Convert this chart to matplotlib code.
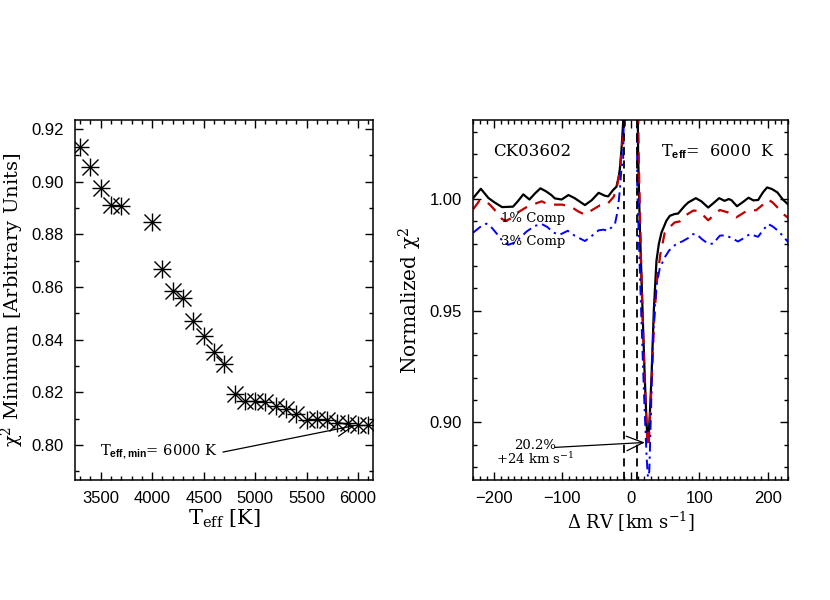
import matplotlib
matplotlib.use("Agg")
import matplotlib.pyplot as plt
from matplotlib.ticker import MultipleLocator, FormatStrFormatter

# ---------------- data: left panel ----------------
teff = [3300, 3400, 3500, 3600, 3700, 4000, 4100, 4200, 4300, 4400, 4500, 4600,
        4700, 4800, 4900, 5000, 5100, 5200, 5300, 5400, 5500, 5600, 5700, 5800,
        5900, 6000, 6100]
chi2_min = [0.9130, 0.9056, 0.8974, 0.8913, 0.8908, 0.8847, 0.8667, 0.8584,
            0.8559, 0.8471, 0.8414, 0.8353, 0.8306, 0.8192, 0.8167, 0.8167,
            0.8163, 0.8147, 0.8138, 0.8119, 0.8096, 0.8100, 0.8095, 0.8085,
            0.8082, 0.8076, 0.8077]
teff_best = 6000

# ---------------- data: right panel ----------------
rv_black = [-230, -219, -208, -199, -188, -172, -165, -157, -148, -140, -132, -124,
            -116, -111, -101, -91, -82, -67, -57, -47, -38, -33, -26, -21, -18, -16,
            -13.6, -11.2, -9, 9.5, 10.7, 13, 15.6, 18, 20.4, 23, 24.5, 26, 28, 30.2,
            33.6, 37.5, 41, 44.8, 52, 57, 64, 69, 78.8, 84, 95, 103, 113, 120, 129,
            137, 143, 147, 155, 163, 172, 179, 186, 193, 199, 206, 214, 222, 230]
chi_black = [1.0005, 1.0046, 1.0005, 0.9985, 0.9964, 0.9966, 0.9990, 1.0021, 0.9998,
             1.0025, 1.0048, 1.0035, 1.0018, 1.0003, 0.9998, 1.0018, 1.0004, 0.9973,
             0.9995, 1.0028, 1.0015, 1.0012, 1.0040, 1.0055, 1.0095, 1.0134, 1.0222,
             1.0343, 1.0600, 1.0600, 1.0200, 0.9900, 0.9650, 0.9420, 0.9200, 0.9000,
             0.8915, 0.8935, 0.9050, 0.9200, 0.9500, 0.9724, 0.9800, 0.9850, 0.9903,
             0.9925, 0.9933, 0.9935, 0.9970, 0.9985, 1.0004, 0.9990, 0.9962, 0.9980,
             1.0004, 0.9992, 1.0000, 0.9995, 0.9968, 0.9985, 1.0006, 0.9994, 0.9996,
             1.0030, 1.0052, 1.0045, 1.0030, 0.9998, 0.9975]

rv_red = [-230, -221, -213, -205, -197, -188, -182, -174, -165, -150, -130, -120,
          -110, -100, -87, -77, -67, -57, -45, -35, -25, -21, -16, -13.6, -11, -8.8,
          -7, 9.5, 11.7, 15.5, 20, 24.5, 26, 30, 34, 38, 43, 49.6, 57, 64, 71.5, 79,
          91, 98, 105, 113, 122, 130, 142, 154, 163, 171, 183, 193, 200.5, 207, 215,
          222, 230]
chi_red = [0.9955, 0.9993, 0.9995, 0.9972, 0.9945, 0.9910, 0.9903, 0.9915, 0.9940,
           0.9968, 0.9990, 0.9975, 0.9975, 0.9975, 0.9965, 0.9945, 0.9930, 0.9950,
           0.9972, 0.9975, 1.0010, 1.0045, 1.0120, 1.0209, 1.0300, 1.0313, 1.0600,
           1.0600, 1.0170, 0.9650, 0.9200, 0.8890, 0.8890, 0.9150, 0.9450, 0.9630,
           0.9750, 0.9850, 0.9875, 0.9895, 0.9900, 0.9925, 0.9948, 0.9948, 0.9930,
           0.9905, 0.9930, 0.9951, 0.9940, 0.9918, 0.9935, 0.9950, 0.9950, 0.9975,
           0.9998, 0.9985, 0.9960, 0.9935, 0.9915]

rv_blue = [-230, -220, -211, -204, -196, -188, -179, -170, -164, -152, -140, -130,
           -122, -113, -104, -92, -82, -67, -57, -47, -40, -33, -23, -19, -16, -13.6,
           -11.2, -9, 9, 9.3, 14, 19, 23, 25, 27, 29.5, 32, 35, 38, 42.3, 49.6, 56,
           66.7, 75, 83.6, 91, 96, 104, 113, 120, 130, 138, 144, 156.6, 165, 173.7,
           185.8, 193, 200.5, 207, 215, 222, 230]
chi_blue = [0.9850, 0.9875, 0.9890, 0.9875, 0.9846, 0.9815, 0.9795, 0.9805, 0.9820,
            0.9855, 0.9880, 0.9888, 0.9875, 0.9850, 0.9840, 0.9858, 0.9836, 0.9812,
            0.9835, 0.9860, 0.9863, 0.9858, 0.9890, 0.9950, 1.0040, 1.0140, 1.0171,
            1.0600, 1.0600, 1.0067, 0.9600, 0.9150, 0.8850, 0.8754, 0.8780, 0.9050,
            0.9350, 0.9520, 0.9620, 0.9690, 0.9739, 0.9770, 0.9800, 0.9810, 0.9825,
            0.9843, 0.9843, 0.9820, 0.9800, 0.9800, 0.9836, 0.9838, 0.9830, 0.9810,
            0.9825, 0.9843, 0.9831, 0.9860, 0.9888, 0.9878, 0.9858, 0.9835, 0.9806]

rv_window = [-10, 9]
rv_peak = 24
depth_pct = 20.2
star_name = "CK03602"

# ---------------- styling ----------------
plt.rcParams['mathtext.fontset'] = 'custom'
plt.rcParams['mathtext.rm'] = 'DejaVu Serif'
plt.rcParams['mathtext.it'] = 'DejaVu Serif:italic'
plt.rcParams['mathtext.bf'] = 'Liberation Sans:bold'
plt.rcParams['font.family'] = ['Liberation Sans', 'DejaVu Sans']

SERIF = ['DejaVu Serif']

fig = plt.figure(figsize=(8.3, 6.0), dpi=100)
ax1 = fig.add_axes([75 / 830, 0.2, (373 - 75) / 830, 0.6])
ax2 = fig.add_axes([473.3 / 830, 0.2, (788.3 - 473.3) / 830, 0.6])

for ax in (ax1, ax2):
    for s in ax.spines.values():
        s.set_linewidth(1.1)
    ax.tick_params(which='both', direction='in', top=True, right=True,
                   labelsize=12, width=1.0, pad=8)
    ax.tick_params(which='major', length=5.5)
    ax.tick_params(which='minor', length=3)

# ---------------- left panel ----------------
ax1.plot(teff, chi2_min, ls='none', marker='+', ms=12.5, mew=1.0, color='black')
ax1.plot(teff, chi2_min, ls='none', marker='x', ms=11.5, mew=1.0, color='black')
ax1.set_xlim(3250, 6145)
ax1.set_ylim(0.7867, 0.9234)
ax1.xaxis.set_major_locator(MultipleLocator(500))
ax1.xaxis.set_minor_locator(MultipleLocator(100))
ax1.yaxis.set_major_locator(MultipleLocator(0.02))
ax1.yaxis.set_minor_locator(MultipleLocator(0.01))
ax1.yaxis.set_major_formatter(FormatStrFormatter('%.2f'))
ax1.set_xlabel('T$_{\\mathrm{eff}}$ [K]', fontsize=15, family=SERIF, labelpad=1)
ax1.set_ylabel('χ$^{2}$ Minimum [Arbitrary Units]', fontsize=14, family=SERIF,
               labelpad=4)

best_val = chi2_min[teff.index(teff_best)]
ax1.text(3494, 0.7973, 'T$_{\\mathbf{eff,min}}$= %d K' % teff_best, fontsize=10.5,
         family=SERIF, ha='left', va='center')
ax1.annotate('', xy=(teff_best - 30, best_val - 0.0002), xytext=(4687, 0.7973),
             arrowprops=dict(arrowstyle='->,head_length=0.8,head_width=0.35',
                             mutation_scale=15, lw=0.9, color='black',
                             shrinkA=0, shrinkB=0))

# ---------------- right panel ----------------
ax2.plot(rv_black, chi_black, color='black', lw=1.6)
ax2.plot(rv_red, chi_red, color='#c00000', lw=1.6, dashes=(5, 4))
ax2.plot(rv_blue, chi_blue, color='#0000ff', lw=1.4, dashes=(5, 2.5, 1.2, 2.5))
for v in rv_window:
    ax2.axvline(v, color='black', lw=1.3, dashes=(4.5, 3))
ax2.set_xlim(-230, 230)
ax2.set_ylim(0.8742, 1.0354)
ax2.xaxis.set_major_locator(MultipleLocator(100))
ax2.xaxis.set_minor_locator(MultipleLocator(10))
ax2.yaxis.set_major_locator(MultipleLocator(0.05))
ax2.yaxis.set_minor_locator(MultipleLocator(0.01))
ax2.yaxis.set_major_formatter(FormatStrFormatter('%.2f'))
ax2.set_xlabel('Δ RV [km s$^{-1}$]', fontsize=13, family=SERIF, labelpad=3)
ax2.set_ylabel('Normalized χ$^{2}$', fontsize=14.5, family=SERIF, labelpad=4)

ax2.text(-201, 1.0213, star_name, fontsize=12, family=SERIF, ha='left', va='center')
ax2.text(44.8, 1.0213, 'T$_{\\mathbf{eff}}$=  %d  K' % teff_best, fontsize=11.5,
         family=SERIF, ha='left', va='center')
ax2.text(-143, 0.9915, '1% Comp', fontsize=9.5, family=SERIF, ha='center', va='center')
ax2.text(-143, 0.9810, '3% Comp', fontsize=9.5, family=SERIF, ha='center', va='center')
ax2.text(-140, 0.8897, '%.1f%%' % depth_pct, fontsize=9.5, family=SERIF,
         ha='center', va='center')
ax2.text(-140, 0.8834, '+%d km s$^{-1}$' % rv_peak, fontsize=9.5, family=SERIF,
         ha='center', va='center')
ax2.annotate('', xy=(20.4, 0.8910), xytext=(-111, 0.8888),
             arrowprops=dict(arrowstyle='->,head_length=0.8,head_width=0.35',
                             mutation_scale=15, lw=0.9, color='black',
                             shrinkA=0, shrinkB=0))

fig.savefig('out.png', dpi=100)
